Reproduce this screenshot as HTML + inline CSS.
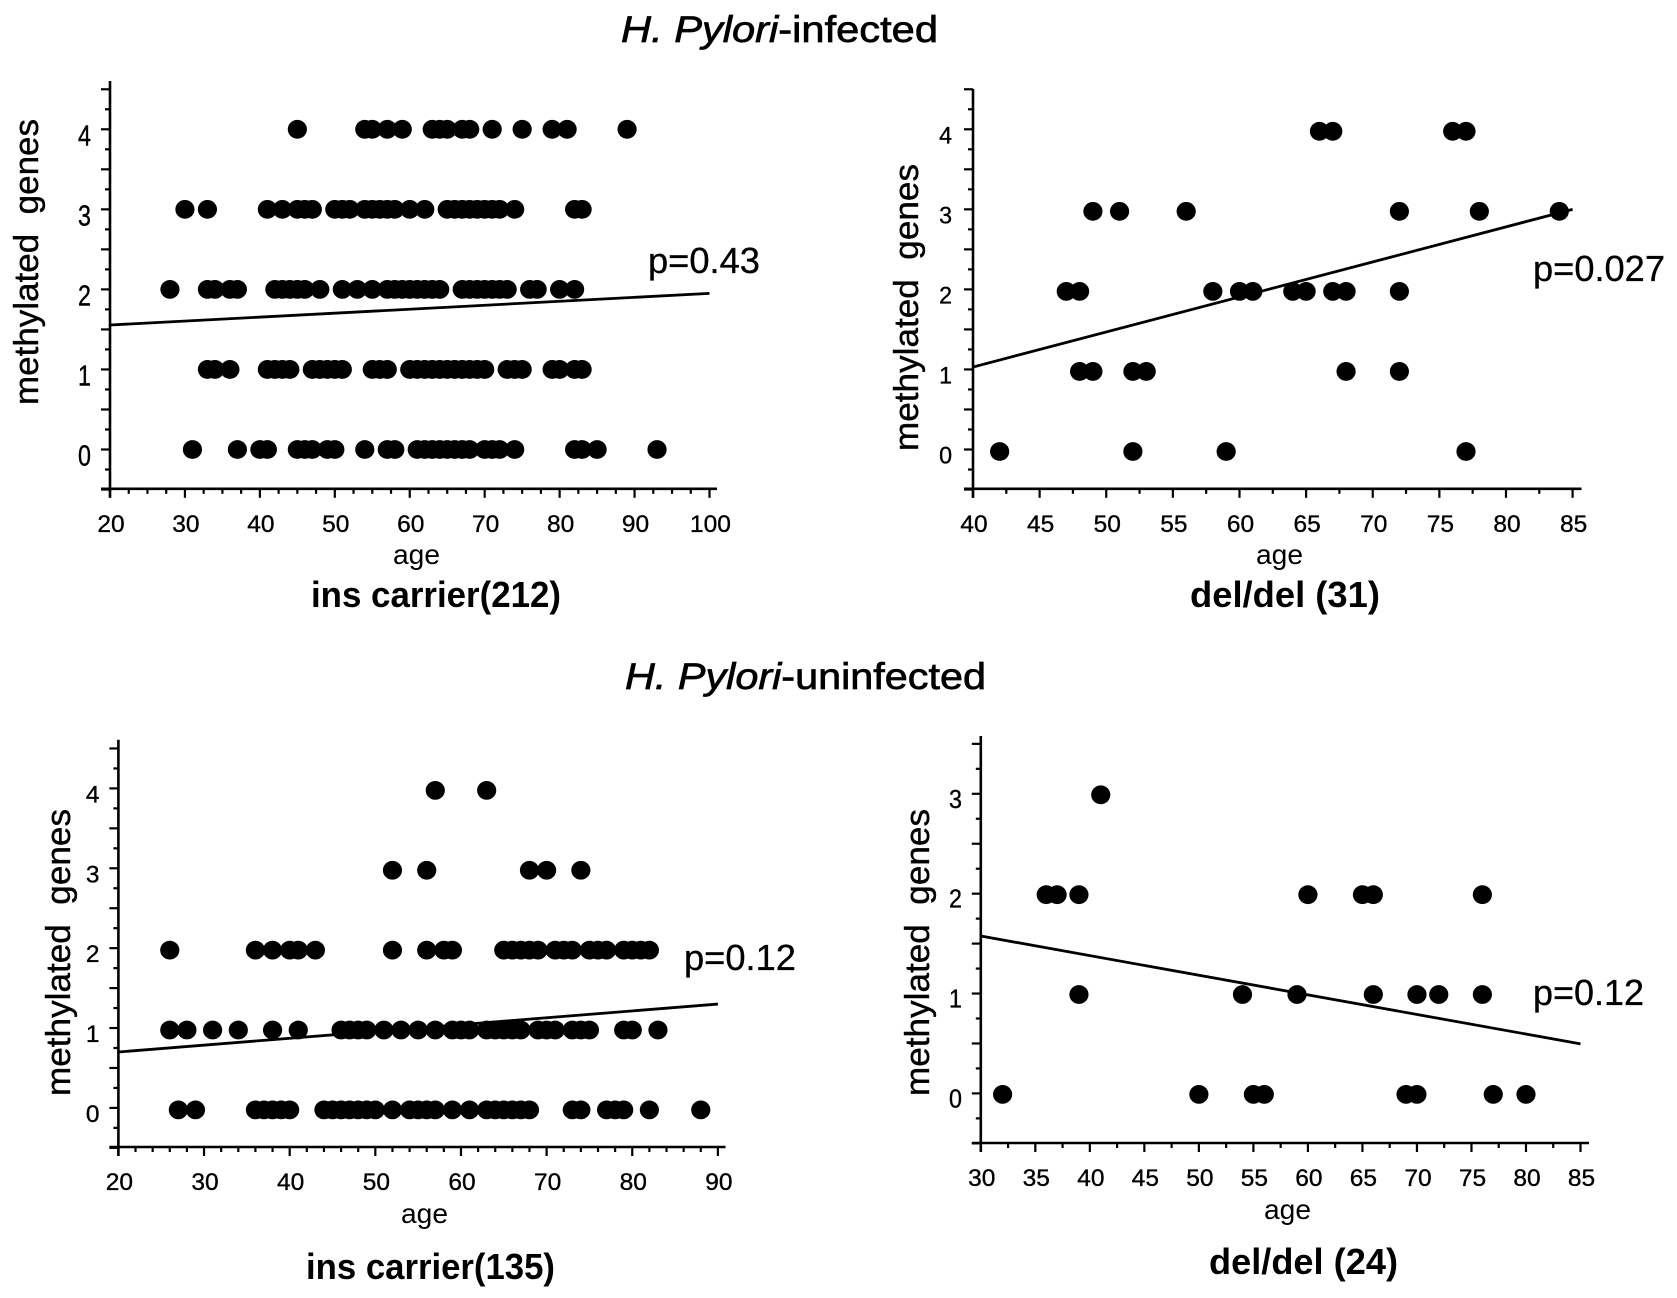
<!DOCTYPE html>
<html lang="en">
<head>
<meta charset="utf-8">
<title>Methylated genes by age</title>
<style>
html,body{margin:0;padding:0;background:#fff;}
svg{display:block;}
text{font-family:"Liberation Sans",sans-serif;fill:#000;}
.heading{font-size:37px;stroke:#000;stroke-width:.7px;}
.group{font-size:36px;font-weight:bold;}
.pval{font-size:36px;stroke:#000;stroke-width:.3px;}
.ytitle{font-size:34px;stroke:#000;stroke-width:.4px;}
.xtitle{font-size:28px;}
.tick{font-size:24.5px;stroke:#000;stroke-width:.35px;}
</style>
</head>
<body>
<svg id="figure" xmlns="http://www.w3.org/2000/svg" width="1677" height="1298" viewBox="0 0 1677 1298">
<text class="heading" x="621" y="42" textLength="317" lengthAdjust="spacingAndGlyphs"><tspan font-style="italic">H. Pylori</tspan>-infected</text>
<text class="heading" x="625" y="689" textLength="361" lengthAdjust="spacingAndGlyphs"><tspan font-style="italic">H. Pylori</tspan>-uninfected</text>

<text class="group" x="311" y="607" textLength="250" lengthAdjust="spacingAndGlyphs">ins carrier(212)</text>
<text class="group" x="1190" y="607" textLength="190" lengthAdjust="spacingAndGlyphs">del/del (31)</text>
<text class="group" x="306" y="1279" textLength="249" lengthAdjust="spacingAndGlyphs">ins carrier(135)</text>
<text class="group" x="1209" y="1274" textLength="189" lengthAdjust="spacingAndGlyphs">del/del (24)</text>

<text class="pval" x="648" y="273" textLength="112" lengthAdjust="spacingAndGlyphs">p=0.43</text>
<text class="pval" x="1533" y="281" textLength="132" lengthAdjust="spacingAndGlyphs">p=0.027</text>
<text class="pval" x="684" y="970" textLength="112" lengthAdjust="spacingAndGlyphs">p=0.12</text>
<text class="pval" x="1533" y="1005" textLength="111" lengthAdjust="spacingAndGlyphs">p=0.12</text>

<text class="ytitle" transform="translate(38,405) rotate(-90)" textLength="286" lengthAdjust="spacingAndGlyphs" xml:space="preserve">methylated  genes</text>
<text class="ytitle" transform="translate(918,451) rotate(-90)" textLength="287" lengthAdjust="spacingAndGlyphs" xml:space="preserve">methylated  genes</text>
<text class="ytitle" transform="translate(70,1096) rotate(-90)" textLength="287" lengthAdjust="spacingAndGlyphs" xml:space="preserve">methylated  genes</text>
<text class="ytitle" transform="translate(929,1096) rotate(-90)" textLength="287" lengthAdjust="spacingAndGlyphs" xml:space="preserve">methylated  genes</text>

<text class="xtitle" x="393" y="564" textLength="47" lengthAdjust="spacingAndGlyphs">age</text>
<text class="xtitle" x="1256" y="564" textLength="47" lengthAdjust="spacingAndGlyphs">age</text>
<text class="xtitle" x="401" y="1223" textLength="47" lengthAdjust="spacingAndGlyphs">age</text>
<text class="xtitle" x="1264" y="1219" textLength="47" lengthAdjust="spacingAndGlyphs">age</text>
</svg>

<script>
// Panel A: H. Pylori-infected, ins carrier(212) — ages at each methylated-gene count
const panelA_count4 = [45,54,55,57,59,63,64,65,67,68,71,75,79,81,89];
const panelA_count3 = [30,33,41,43,45,46,47,50,51,52,54,55,56,57,58,60,62,65,66,67,68,69,70,71,72,74,82,83];
const panelA_count2 = [28,33,34,36,37,42,43,44,45,46,48,51,53,55,57,58,59,60,61,62,63,64,67,68,69,70,71,72,73,76,77,80,82];
const panelA_count1 = [33,34,36,41,42,43,44,47,48,49,50,51,55,56,57,60,61,62,63,64,65,66,67,68,69,70,73,74,75,79,80,82,83];
const panelA_count0 = [31,37,40,41,45,46,47,49,50,54,57,58,61,62,63,64,65,66,67,68,70,71,72,74,82,83,85,93];
const panelA_trend = [1.555,1.95];
const panelA_xTicks = [20,30,40,50,60,70,80,90,100];
const panelA_yTicks = [0,1,2,3,4];

// Panel B: H. Pylori-infected, del/del (31)
const panelB_count4 = [66,67,76,77];
const panelB_count3 = [49,51,56,72,78,84];
const panelB_count2 = [47,48,58,60,61,64,65,67,68,72];
const panelB_count1 = [48,49,52,53,68,72];
const panelB_count0 = [42,52,59,77];
const panelB_trend = [1.03,3.0];
const panelB_xTicks = [40,45,50,55,60,65,70,75,80,85];
const panelB_yTicks = [0,1,2,3,4];

// Panel C: H. Pylori-uninfected, ins carrier(135)
const panelC_count4 = [57,63];
const panelC_count3 = [52,56,68,70,74];
const panelC_count2 = [26,36,38,40,41,43,52,56,58,59,65,66,67,68,69,71,72,73,75,76,77,79,80,81,82];
const panelC_count1 = [26,28,31,34,38,41,46,47,48,49,51,53,55,57,59,60,61,63,64,65,66,67,69,70,71,73,74,75,79,80,83];
const panelC_count0 = [27,29,36,37,38,39,40,44,45,46,47,48,49,50,52,54,55,56,57,59,61,63,64,65,66,67,68,73,74,77,78,79,82,88];
const panelC_trend = [0.70,1.30];
const panelC_xTicks = [20,30,40,50,60,70,80,90];
const panelC_yTicks = [0,1,2,3,4];

// Panel D: H. Pylori-uninfected, del/del (24)
const panelD_count3 = [41];
const panelD_count2 = [36,37,39,60,65,66,76];
const panelD_count1 = [39,54,59,66,70,72,76];
const panelD_count0 = [32,50,55,56,69,70,77,80];
const panelD_trend = [1.576,0.496];
const panelD_xTicks = [30,35,40,45,50,55,60,65,70,75,80,85];
const panelD_yTicks = [0,1,2,3];

const SVG_NS = 'http://www.w3.org/2000/svg';
const figure = document.getElementById('figure');

function svgEl(tag, parent, attrs) {
  const el = document.createElementNS(SVG_NS, tag);
  for (const key in attrs) el.setAttribute(key, attrs[key]);
  parent.appendChild(el);
  return el;
}

function drawPanel(p) {
  const first = p.xTicks[0], last = p.xTicks[p.xTicks.length - 1];
  const xScale = v => p.x0 + (v - first) / (last - first) * (p.x1 - p.x0);
  const yTop = p.yTicks[p.yTicks.length - 1];
  const yScale = v => p.y0 + v / yTop * (p.y1 - p.y0);

  const g = svgEl('g', figure, {});
  
  

  // axes
  const xAxis = svgEl('line', g, {x1: p.x0 - 9, x2: p.xEnd, y1: p.bottom, y2: p.bottom, stroke: '#000', 'stroke-width': 2.6});
  
  
  const yAxis = svgEl('line', g, {x1: p.x0, x2: p.x0, y1: p.bottom + 9, y2: p.top, stroke: '#000', 'stroke-width': 2.6});
  
  

  // x ticks
  const nMinor = Math.round((last - first) / p.xMinor);
  for (let i = 0; i <= nMinor; i++) {
    const v = first + i * p.xMinor;
    const isMajor = p.xTicks.some(t => Math.abs(t - v) < 1e-6);
    const tick = svgEl('line', g, {x1: xScale(v), x2: xScale(v), y1: p.bottom, y2: p.bottom + (isMajor ? 9 : 5), stroke: '#000', 'stroke-width': 2.2});
    
    
  }
  p.xTicks.forEach(t => {
    const label = svgEl('text', g, {class: 'tick', x: xScale(t) + 1, y: p.bottom + p.xLabelDy, 'text-anchor': 'middle'});
    label.textContent = t;
    
    
  });

  // y ticks every quarter unit, longer on half units
  for (let i = -2; i <= yTop * 4 + 2; i++) {
    const v = i / 4;
    const tick = svgEl('line', g, {x1: p.x0 - (i % 2 === 0 ? 9 : 5), x2: p.x0, y1: yScale(v), y2: yScale(v), stroke: '#000', 'stroke-width': 2.2});
    
    
  }
  p.yTicks.forEach(t => {
    const label = svgEl('text', g, {class: 'tick', 'text-anchor': 'end',
      transform: 'translate(' + p.yLabelX + ',' + (yScale(t) + p.yLabelDy) + ') scale(' + p.yLabelSx + ',' + p.yLabelSy + ')'});
    label.textContent = t;
    
    
  });

  // trend line
  const trend = svgEl('line', g, {x1: xScale(first), y1: yScale(p.trend[0]), x2: xScale(last), y2: yScale(p.trend[1]), stroke: '#000', 'stroke-width': 2.8});
  
  

  // points
  p.series.forEach(s => {
    s.ages.forEach(age => {
      const dot = svgEl('ellipse', g, {cx: xScale(age), cy: yScale(s.count) + p.dotDy, rx: 9.6, ry: 9.4, fill: '#000'});
      
      
    });
  });
}

drawPanel({
  name: 'panel-a-infected-ins-carrier',
  x0: 110, x1: 709.5, xEnd: 717, y0: 449.5, y1: 129.3, top: 81, bottom: 488.8, xMinor: 2.5,
  xLabelDy: 43, yLabelX: 91, yLabelDy: 16, yLabelSx: .95, yLabelSy: 1.18, dotDy: 0,
  xTicks: panelA_xTicks, yTicks: panelA_yTicks, trend: panelA_trend,
  series: [
    {count: 4, ages: panelA_count4}, {count: 3, ages: panelA_count3}, {count: 2, ages: panelA_count2},
    {count: 1, ages: panelA_count1}, {count: 0, ages: panelA_count0}
  ]
});
drawPanel({
  name: 'panel-b-infected-del-del',
  x0: 973, x1: 1572.6, xEnd: 1581.5, y0: 449.5, y1: 129.3, top: 89, bottom: 488.8, xMinor: 2.5,
  xLabelDy: 43, yLabelX: 952, yLabelDy: 14, yLabelSx: .95, yLabelSy: 1, dotDy: 2,
  xTicks: panelB_xTicks, yTicks: panelB_yTicks, trend: panelB_trend,
  series: [
    {count: 4, ages: panelB_count4}, {count: 3, ages: panelB_count3}, {count: 2, ages: panelB_count2},
    {count: 1, ages: panelB_count1}, {count: 0, ages: panelB_count0}
  ]
});
drawPanel({
  name: 'panel-c-uninfected-ins-carrier',
  x0: 118.4, x1: 717.9, xEnd: 725.5, y0: 1107.9, y1: 788.4, top: 739.7, bottom: 1147, xMinor: 2,
  xLabelDy: 43, yLabelX: 99.5, yLabelDy: 14, yLabelSx: 1, yLabelSy: 1, dotDy: 2,
  xTicks: panelC_xTicks, yTicks: panelC_yTicks, trend: panelC_trend,
  series: [
    {count: 4, ages: panelC_count4}, {count: 3, ages: panelC_count3}, {count: 2, ages: panelC_count2},
    {count: 1, ages: panelC_count1}, {count: 0, ages: panelC_count0}
  ]
});
drawPanel({
  name: 'panel-d-uninfected-del-del',
  x0: 980.8, x1: 1580.5, xEnd: 1589, y0: 1093.4, y1: 793.8, top: 736, bottom: 1143, xMinor: 2.5,
  xLabelDy: 43, yLabelX: 962, yLabelDy: 14, yLabelSx: .95, yLabelSy: 1.05, dotDy: 1,
  xTicks: panelD_xTicks, yTicks: panelD_yTicks, trend: panelD_trend,
  series: [
    {count: 3, ages: panelD_count3}, {count: 2, ages: panelD_count2},
    {count: 1, ages: panelD_count1}, {count: 0, ages: panelD_count0}
  ]
});
</script>
</body>
</html>
